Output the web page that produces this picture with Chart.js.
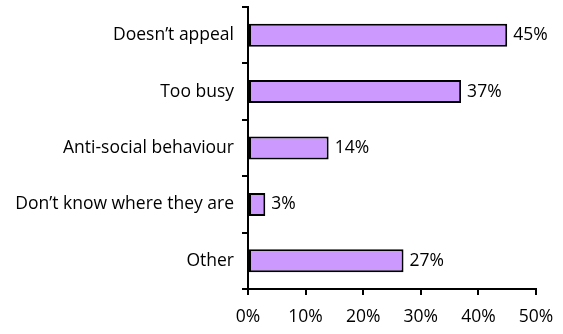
<!DOCTYPE html>
<html>
<head>
<meta charset="utf-8">
<script src="https://cdn.jsdelivr.net/npm/chart.js@4.4.1/dist/chart.umd.min.js"></script>
<style>
  html, body { margin: 0; padding: 0; background: #fff; }
  #wrap { width: 563px; height: 334px; }
</style>
</head>
<body>
<div id="wrap"><canvas id="chart"></canvas></div>
<script>
const reasons = ['Doesn\u2019t appeal', 'Too busy', 'Anti-social behaviour', 'Don\u2019t know where they are', 'Other'];
const shares = [45, 37, 14, 3, 27];
const axisTicks = [0, 10, 20, 30, 40, 50];

const FONT = { family: '"Open Sans", sans-serif', size: 17.5 };

// value labels to the right of each bar
const barLabels = {
    id: 'barLabels',
    afterDatasetsDraw(chart) {
        const ctx = chart.ctx;
        const meta = chart.getDatasetMeta(0);
        ctx.save();
        ctx.font = `${FONT.size}px ${FONT.family}`;
        ctx.fillStyle = '#000';
        ctx.textBaseline = 'middle';
        ctx.textAlign = 'left';
        meta.data.forEach((bar, i) => {
            ctx.fillText(shares[i] + '%', bar.x + 6, bar.y);
        });
        ctx.restore();
    }
};

new Chart(document.getElementById('chart'), {
    type: 'bar',
    data: {
        labels: reasons,
        datasets: [{
            data: shares,
            backgroundColor: '#CC99FF',
            borderColor: '#000',
            borderWidth: 2,
            borderSkipped: false,
            categoryPercentage: 0.8,
            barPercentage: 0.51
        }]
    },
    options: {
        indexAxis: 'y',
        responsive: true,
        maintainAspectRatio: false,
        animation: false,
        layout: { padding: { top: 7, right: 27, left: 0, bottom: 0 } },
        plugins: { legend: { display: false }, tooltip: { enabled: false } },
        scales: {
            x: {
                min: 0,
                max: 50,
                afterBuildTicks(axis) {
                    axis.ticks = axisTicks.map(v => ({ value: v }));
                },
                afterFit(axis) {
                    axis.height = 45;
                    axis.paddingLeft = 0;
                    axis.paddingRight = 0;
                },
                grid: { drawOnChartArea: false, drawTicks: true, tickLength: 6, color: '#000', lineWidth: 2 },
                border: { color: '#000', width: 2 },
                ticks: { color: '#000', font: FONT, padding: 12, callback: v => v + '%' }
            },
            y: {
                afterFit(axis) {
                    axis.width = 248;
                    axis.paddingTop = 0;
                    axis.paddingBottom = 0;
                },
                grid: { drawOnChartArea: false, drawTicks: true, tickLength: 6, color: '#000', lineWidth: 2, offset: true },
                border: { color: '#000', width: 2 },
                ticks: { color: '#000', font: FONT, padding: 8 }
            }
        }
    },
    plugins: [barLabels]
});
</script>
</body>
</html>
